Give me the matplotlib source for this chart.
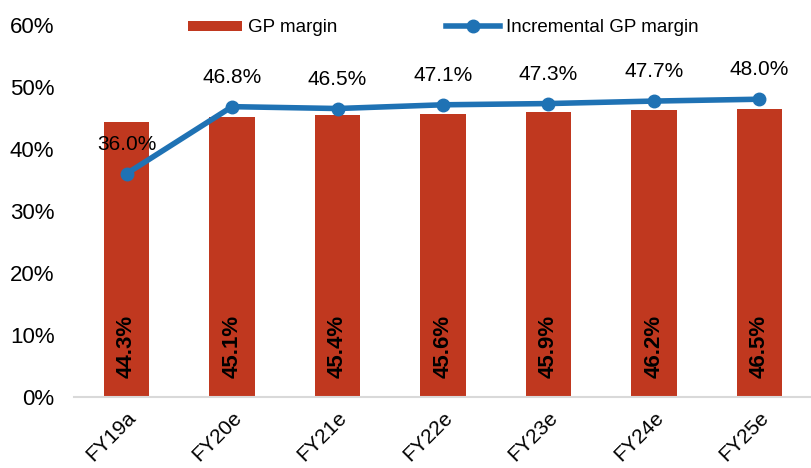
import matplotlib.pyplot as plt
import numpy as np

plt.rcParams["font.family"] = ["Liberation Sans", "DejaVu Sans"]

BAR_RED = "#C0381F"
LINE_BLUE = "#1F72B4"

years = ["FY19a", "FY20e", "FY21e", "FY22e", "FY23e", "FY24e", "FY25e"]
gp_margin = [44.3, 45.1, 45.4, 45.6, 45.9, 46.2, 46.5]
incr_gp_margin = [36.0, 46.8, 46.5, 47.1, 47.3, 47.7, 48.0]


def main():
    x = np.arange(len(years))
    fig = plt.figure(figsize=(8.12, 4.68), dpi=100)
    ax = fig.add_axes([0.091, 0.152, 0.909, 0.795])

    bars = ax.bar(x, gp_margin, width=0.43, color=BAR_RED, label="GP margin",
                  zorder=2)
    line, = ax.plot(x, incr_gp_margin, color=LINE_BLUE, linewidth=4,
                    marker="o", markersize=9, label="Incremental GP margin",
                    zorder=3)

    # bar labels, rotated, at the bottom of each bar
    for xi, v in zip(x, gp_margin):
        ax.text(xi, 3.0, f"{v:.1f}%", rotation=90, ha="center", va="bottom",
                fontsize=16, fontweight="bold", color="black", zorder=4)

    # line labels above points
    for xi, v in zip(x, incr_gp_margin):
        ax.text(xi, v + 3.2, f"{v:.1f}%", ha="center", va="bottom",
                fontsize=15, color="black", zorder=4)

    ax.set_xlim(-0.5, len(years) - 0.5)
    ax.set_ylim(0, 60)
    ax.set_yticks(np.arange(0, 61, 10))
    ax.set_yticklabels([f"{t}%" for t in range(0, 61, 10)], fontsize=16)
    ax.set_xticks(x)
    ax.set_xticklabels(years, rotation=45, ha="right", rotation_mode="anchor",
                       fontsize=15)
    ax.tick_params(axis="y", length=0, pad=14)
    ax.tick_params(axis="x", length=0, pad=8)

    for s in ["top", "right", "left"]:
        ax.spines[s].set_visible(False)
    ax.spines["bottom"].set_color("#D9D9D9")
    ax.spines["bottom"].set_linewidth(1.5)

    ax.legend([bars, line], ["GP margin", "Incremental GP margin"],
              loc="upper center", bbox_to_anchor=(0.5, 1.06), ncol=2,
              frameon=False, fontsize=13.5, handlelength=2.9, handleheight=0.45,
              columnspacing=5.8, handletextpad=0.3)

    fig.savefig("out.png", facecolor="white")
    plt.close(fig)


if __name__ == "__main__":
    main()
